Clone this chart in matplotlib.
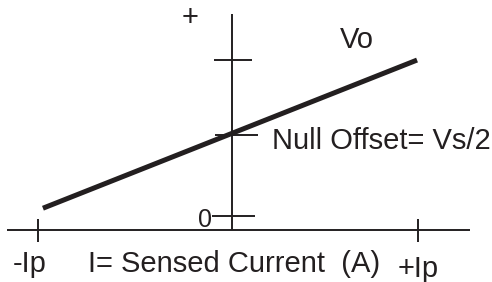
import matplotlib
matplotlib.use("Agg")
import matplotlib.pyplot as plt

plt.rcParams['font.family'] = ['Liberation Sans', 'DejaVu Sans']

# ---- data (schematic units: current in Ip, Vo in Vs) ----
current_ticks = [-1.0, 1.0]
current_labels = ['-Ip', '+Ip']
vo_ticks = [0.0, 0.52, 1.0]
vo_tick_labels = ['0', 'Null Offset= Vs/2', '']
line_current = [-0.974, 0.995]
line_vo = [0.05, 1.0]
axis_origin_x = 0.021
axis_origin_y = -0.09

INK = '#231f20'

fig = plt.figure(figsize=(4.92, 2.82), dpi=100)
ax = fig.add_axes([0, 0, 1, 1])
ax.set_xlim(-1.2, 1.3895)
ax.set_ylim(-0.423, 1.385)
ax.axis('off')

# axes lines
ax.plot([-1.163, 1.274], [axis_origin_y, axis_origin_y], color=INK, lw=1.4, solid_capstyle='butt')
ax.plot([axis_origin_x, axis_origin_x], [axis_origin_y, 1.295], color=INK, lw=1.4, solid_capstyle='butt')

# x ticks
for xt in current_ticks:
    ax.plot([xt, xt], [axis_origin_y - 0.077, axis_origin_y + 0.071], color=INK, lw=1.4, solid_capstyle='butt')

# y ticks (left, right extents)
ytick_ext = [(-0.105, 0.12), (-0.09, 0.137), (-0.095, 0.105)]
for yt, (l, r) in zip(vo_ticks, ytick_ext):
    ax.plot([axis_origin_x + l, axis_origin_x + r], [yt, yt], color=INK, lw=1.4, solid_capstyle='butt')

# Vo line
ax.plot(line_current, line_vo, color=INK, lw=3.6, solid_capstyle='butt')

fs = 21
ax.text(-0.2, 1.269, '+', fontsize=fs, color=INK, ha='center', va='center')
ax.text(0.589, 1.077, 'Vo', fontsize=fs, color=INK, ha='left', va='baseline')
ax.text(0.2316, 0.4295, vo_tick_labels[1], fontsize=fs, color=INK, ha='left', va='baseline')
ax.text(-0.084, -0.0705, vo_tick_labels[0], fontsize=18, color=INK, ha='right', va='baseline')
ax.text(-1.1316, -0.359, current_labels[0], fontsize=fs, color=INK, ha='left', va='baseline')
ax.text(-0.737, -0.359, 'I= Sensed Current  (A)', fontsize=fs, color=INK, ha='left', va='baseline')
ax.text(0.895, -0.391, current_labels[1], fontsize=fs, color=INK, ha='left', va='baseline')

fig.savefig('out.png', dpi=100)
